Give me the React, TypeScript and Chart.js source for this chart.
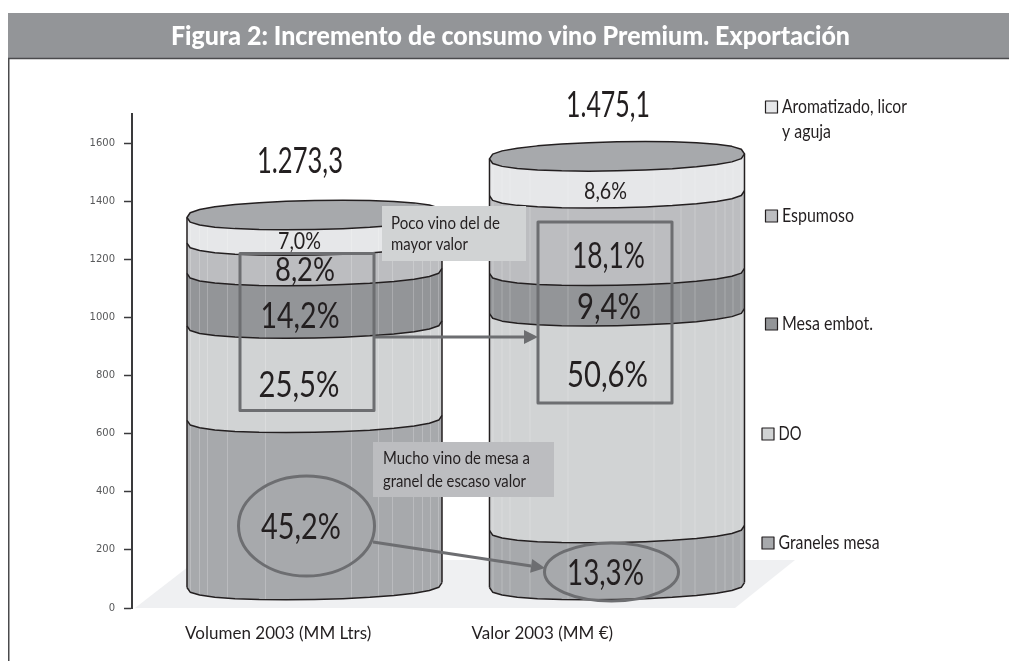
import React, { useEffect, useRef } from "react";
import { Chart, registerables } from "chart.js";

Chart.register(...registerables);

const FONT = 'Lato, "Liberation Sans", sans-serif';
const INK = "#231f20";
const MARK = "#6d6e71";

const columnPositions = [1, 2];
const categories = ["Volumen 2003 (MM Ltrs)", "Valor 2003 (MM €)"];
const totals = ["1.273,3", "1.475,1"];

const graneles = [575.5, 196.2];
const denominacion = [324.7, 746.4];
const mesaEmbot = [180.8, 138.7];
const espumoso = [104.4, 267.0];
const aromatizado = [88.0, 126.9];

const granelesPct = ["45,2%", "13,3%"];
const denominacionPct = ["25,5%", "50,6%"];
const mesaEmbotPct = ["14,2%", "9,4%"];
const espumosoPct = ["8,2%", "18,1%"];
const aromatizadoPct = ["7,0%", "8,6%"];

const yTicks = [0, 200, 400, 600, 800, 1000, 1200, 1400, 1600];

const seriesNames = ["Graneles mesa", "DO", "Mesa embot.", "Espumoso", "Aromatizado, licor"];
const seriesColors = ["#a7a9ac", "#d1d3d4", "#939598", "#bcbdc0", "#e6e7e9"];
const seriesValues = [graneles, denominacion, mesaEmbot, espumoso, aromatizado];
const seriesLabels = [granelesPct, denominacionPct, mesaEmbotPct, espumosoPct, aromatizadoPct];

// Layout of decorations (pixels), kept apart from the data: x, y, font size, width.
const labelLayout = [
  [[301, 527, 36, 80], [605.5, 573, 36, 77]],
  [[299, 385, 36, 81], [607.5, 375, 36, 81]],
  [[300, 316, 36, 79], [609, 307, 36, 64]],
  [[305, 270, 33, 60], [608.5, 256, 36, 73]],
  [[299.5, 241, 24, 43], [605.5, 191, 24, 43]],
];
const legendY = [543, 434, 324, 216, 107];
const legendX = [762, 762, 765.5, 765.5, 765.5];
const legendW = [101, 23, 91, 72, 125];
const facets = [3, 12, 20, 40, 78, 164, 191, 205, 226, 235, 243, 251];

function text(ctx: CanvasRenderingContext2D, s: string, x: number, y: number, font: string, color: string, align: CanvasTextAlign = "left", maxW?: number) {
  ctx.font = font;
  ctx.fillStyle = color;
  ctx.textAlign = align;
  ctx.textBaseline = "middle";
  if (maxW) ctx.fillText(s, x, y, maxW);
  else ctx.fillText(s, x, y);
}

// Half of a slightly tilted, flattened ellipse, faceted like the reference outline.
function arcPoints(cx: number, cy: number, a: number, b: number, upper = false) {
  const pts: [number, number][] = [];
  const n = 14;
  for (let i = 0; i <= n; i++) {
    const t = (Math.PI * i) / n;
    const x = cx - a * Math.cos(t);
    const y = cy + (upper ? -1 : 1) * b * Math.pow(Math.sin(t), 0.75) + 2.5 * Math.cos(t);
    pts.push([x, y]);
  }
  return pts;
}

const cylinderPlugin = {
  id: "cylinders",
  beforeDraw(chart: any) {
    const ctx = chart.ctx;
    ctx.save();
    ctx.fillStyle = "#fff";
    ctx.fillRect(0, 0, chart.width, chart.height);
    ctx.fillStyle = "#939598";
    ctx.fillRect(8, 13, 1001, 45);
    text(ctx, "Figura 2: Incremento de consumo vino Premium. Exportación", 510.5, 36, `900 27px ${FONT}`, "#fff", "center", 679);
    ctx.strokeStyle = "#4a4a4c";
    ctx.lineWidth = 1.5;
    ctx.beginPath();
    ctx.moveTo(8.75, 661);
    ctx.lineTo(8.75, 58.5);
    ctx.lineTo(1009, 58.5);
    ctx.stroke();
    ctx.restore();
  },
  beforeDatasetsDraw(chart: any) {
    const ctx = chart.ctx;
    const bottom = chart.scales.y.getPixelForValue(0);
    ctx.save();
    ctx.fillStyle = "#eff0f2";
    ctx.beginPath();
    ctx.moveTo(135, bottom);
    ctx.lineTo(197, bottom - 48);
    ctx.lineTo(795, bottom - 48);
    ctx.lineTo(735, bottom);
    ctx.closePath();
    ctx.fill();
    ctx.restore();
  },
  afterDatasetsDraw(chart: any) {
    const ctx: CanvasRenderingContext2D = chart.ctx;
    ctx.save();
    ctx.lineJoin = "round";
    const B = 14.5;
    columnPositions.forEach((_, col) => {
      let topEl: any = null;
      seriesNames.forEach((__, ds) => {
        const el = chart.getDatasetMeta(ds).data[col];
        topEl = el;
        const a = el.width / 2 + 2;
        const low = arcPoints(el.x, el.base, a, B);
        const up = arcPoints(el.x, el.y, a, B);
        ctx.beginPath();
        low.forEach((p, i) => (i ? ctx.lineTo(p[0], p[1]) : ctx.moveTo(p[0], p[1])));
        [...up].reverse().forEach((p) => ctx.lineTo(p[0], p[1]));
        ctx.closePath();
        ctx.fillStyle = seriesColors[ds];
        ctx.fill();
        ctx.save();
        ctx.clip();
        ctx.strokeStyle = "rgba(255,255,255,0.22)";
        ctx.lineWidth = 1;
        const left = el.x - a;
        facets.forEach((f) => {
          ctx.beginPath();
          ctx.moveTo(left + f + 0.5, el.y - 20);
          ctx.lineTo(left + f + 0.5, el.base + 20);
          ctx.stroke();
        });
        ctx.restore();
      });
      // outlines, bottom to top
      ctx.strokeStyle = INK;
      ctx.lineWidth = 1.5;
      seriesNames.forEach((__, ds) => {
        const el = chart.getDatasetMeta(ds).data[col];
        const a = el.width / 2 + 2;
        const low = arcPoints(el.x, el.base, a, B);
        ctx.beginPath();
        low.forEach((p, i) => (i ? ctx.lineTo(p[0], p[1]) : ctx.moveTo(p[0], p[1])));
        ctx.stroke();
      });
      const a = topEl.width / 2 + 2;
      const first = chart.getDatasetMeta(0).data[col];
      const lo = arcPoints(first.x, first.base, a, B);
      const loTop = arcPoints(topEl.x, topEl.y, a, B);
      const hiTop = arcPoints(topEl.x, topEl.y, a, B, true);
      ctx.beginPath();
      ctx.moveTo(lo[0][0], lo[0][1]);
      ctx.lineTo(loTop[0][0], loTop[0][1]);
      ctx.moveTo(lo[14][0], lo[14][1]);
      ctx.lineTo(loTop[14][0], loTop[14][1]);
      ctx.stroke();
      ctx.beginPath();
      loTop.forEach((p, i) => (i ? ctx.lineTo(p[0], p[1]) : ctx.moveTo(p[0], p[1])));
      [...hiTop].reverse().forEach((p) => ctx.lineTo(p[0], p[1]));
      ctx.closePath();
      ctx.fillStyle = "#a7a9ac";
      ctx.fill();
      ctx.stroke();
    });

    // callouts
    ctx.fillStyle = "#d1d3d4";
    ctx.fillRect(382, 206, 144, 55);
    ctx.fillStyle = "#bcbdc0";
    ctx.fillRect(373, 442, 181, 55);

    // highlight shapes
    ctx.strokeStyle = MARK;
    ctx.fillStyle = MARK;
    ctx.lineWidth = 3;
    ctx.strokeRect(240, 253.5, 134, 157);
    ctx.strokeRect(538, 222, 134, 181);
    ctx.beginPath();
    ctx.ellipse(306.5, 526, 68, 50, 0, 0, Math.PI * 2);
    ctx.stroke();
    ctx.beginPath();
    ctx.ellipse(611.5, 572, 67, 29, 0, 0, Math.PI * 2);
    ctx.stroke();
    const arrow = (x0: number, y0: number, x1: number, y1: number) => {
      const t = Math.atan2(y1 - y0, x1 - x0);
      const L = 14;
      const W = 7;
      ctx.beginPath();
      ctx.moveTo(x0, y0);
      ctx.lineTo(x1 - L * Math.cos(t), y1 - L * Math.sin(t));
      ctx.stroke();
      ctx.beginPath();
      ctx.moveTo(x1, y1);
      ctx.lineTo(x1 - L * Math.cos(t) - W * Math.sin(t), y1 - L * Math.sin(t) + W * Math.cos(t));
      ctx.lineTo(x1 - L * Math.cos(t) + W * Math.sin(t), y1 - L * Math.sin(t) - W * Math.cos(t));
      ctx.closePath();
      ctx.fill();
    };
    arrow(374, 337, 538, 337);
    arrow(373, 542, 545, 568);

    // percentages
    seriesLabels.forEach((labels, ds) => {
      labels.forEach((s, col) => {
        const [x, y, size, w] = labelLayout[ds][col];
        text(ctx, s, x, y, `400 ${size}px ${FONT}`, INK, "center", w);
      });
    });
    text(ctx, totals[0], 300, 161, `400 36px ${FONT}`, INK, "center", 86);
    text(ctx, totals[1], 608, 105, `400 36px ${FONT}`, INK, "center", 84);

    // callout text
    const small = `17px ${FONT}`;
    text(ctx, "Poco vino del de", 391, 224, small, INK, "left", 109);
    text(ctx, "mayor valor", 391, 245, small, INK, "left", 77);
    text(ctx, "Mucho vino de mesa a", 383, 459, small, INK, "left", 147);
    text(ctx, "granel de escaso valor", 383, 482, small, INK, "left", 143);

    // legend
    seriesNames.forEach((name, ds) => {
      const y = legendY[ds];
      const x = legendX[ds];
      ctx.fillStyle = seriesColors[ds];
      ctx.strokeStyle = INK;
      ctx.lineWidth = 1.2;
      ctx.fillRect(x, y - 6, 12, 12);
      ctx.strokeRect(x, y - 6, 12, 12);
      text(ctx, name, x + 16.5, y, `20px ${FONT}`, INK, "left", legendW[ds]);
    });
    text(ctx, "y aguja", 782, 132, `20px ${FONT}`, INK, "left", 49);
    ctx.restore();
  },
};

export default function App() {
  const ref = useRef<HTMLCanvasElement | null>(null);
  useEffect(() => {
    const chart = new Chart(ref.current as HTMLCanvasElement, {
      type: "bar",
      data: {
        datasets: seriesNames.map((label, i) => ({
          label,
          yAxisID: "y1",
          xAxisID: "x",
          backgroundColor: seriesColors[i],
          borderWidth: 0,
          barThickness: 251,
          data: columnPositions.map((x, c) => ({ x, y: seriesValues[i][c] })),
        })),
      },
      options: {
        responsive: false,
        animation: false,
        layout: { padding: { top: 114, right: 209, left: 0, bottom: 0 } },
        plugins: { legend: { display: false }, title: { display: false }, tooltip: { enabled: false } },
        scales: {
          x: {
            type: "linear",
            stacked: true,
            offset: false,
            min: 0.3967,
            max: 2.605,
            grid: { display: false, offset: false },
            border: { display: false },
            afterFit: (s: any) => { s.height = 53; },
            afterBuildTicks: (s: any) => { s.ticks = [{ value: 0.88 }, { value: 1.753 }]; },
            ticks: {
              autoSkip: false,
              maxRotation: 0,
              padding: 7,
              color: INK,
              font: { family: FONT, size: 17 },
              callback: (_v: any, i: number) => categories[i],
            },
          },
          y: {
            min: 0,
            max: 1700,
            grid: { drawOnChartArea: false, tickLength: 8, tickColor: "#3a3a3c", tickWidth: 1.5 },
            border: { color: "#3a3a3c", width: 2 },
            afterFit: (s: any) => { s.width = 132; },
            afterBuildTicks: (s: any) => { s.ticks = yTicks.map((value) => ({ value })); },
            ticks: {
              stepSize: 200,
              includeBounds: false,
              padding: 9,
              color: "#58595b",
              font: { family: '"DejaVu Sans"', size: 10 },
              callback: (v: any) => String(v),
            },
          },
          y1: { axis: "y", display: false, stacked: true, min: -79, max: 1621 },
        },
      } as any,
      plugins: [cylinderPlugin],
    } as any);
    return () => chart.destroy();
  }, []);
  return (
    <canvas
      ref={ref}
      width={1009}
      height={661}
      style={{ position: "absolute", left: 0, top: 0, width: 1009, height: 661, display: "block" }}
    />
  );
}
